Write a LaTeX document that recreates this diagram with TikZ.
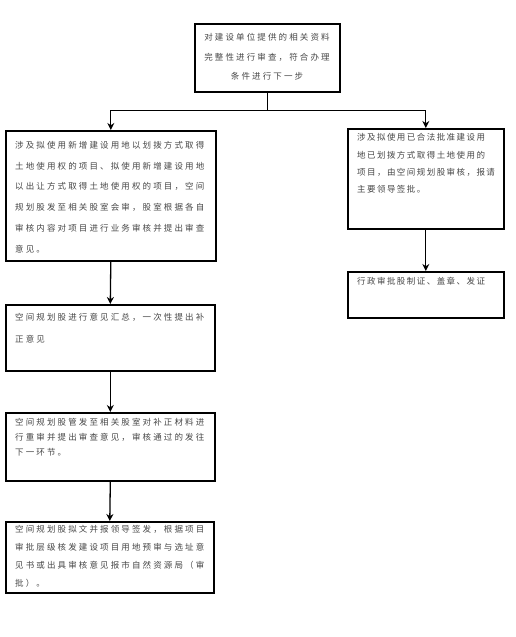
\documentclass[tikz,border=0pt]{standalone}
\usepackage{fontspec}
\newfontfamily\cjk[LetterSpace=25]{Noto Sans CJK SC}
\newfontfamily\cjknarrow[LetterSpace=17]{Noto Sans CJK SC}
\usetikzlibrary{arrows.meta}
\begin{document}
\begin{tikzpicture}[x=1pt,y=-1pt,
  box/.style={draw=black, line width=1.6pt, anchor=north west, inner sep=0pt},
  txt/.style={anchor=north west, inner sep=0pt, align=left, text=black!72, font=\cjk\fontsize{8.5}{#1}\selectfont},
  txtn/.style={anchor=north west, inner sep=0pt, align=left, text=black!72, font=\cjknarrow\fontsize{8.5}{#1}\selectfont},
  arr/.style={draw=black, line width=1.3pt, -{Stealth[length=7pt,width=7pt]}}]
\path[use as bounding box, fill=white] (0,0) rectangle (516,637);

\node[box, minimum width=145pt, minimum height=68pt] (n1) at (194,23) {};
\node[txt=19.5, anchor=north, align=center] (t1) at (267,33.5) {对建设单位提供的相关资料\\完整性进行审查，符合办理\\条件进行下一步};

\node[box, minimum width=210pt, minimum height=130pt] (l1) at (5,130) {};
\node[txt=20.8] (tl1) at (15,141) {涉及拟使用新增建设用地以划拨方式取得\\土地使用权的项目、拟使用新增建设用地\\以出让方式取得土地使用权的项目，空间\\规划股发至相关股室会审，股室根据各自\\审核内容对项目进行业务审核并提出审查\\意见。};

\node[box, minimum width=156pt, minimum height=100pt] (r1) at (347,128) {};
\node[txtn=17.3] (tr1) at (357,133.5) {涉及拟使用已合法批准建设用\\地已划拨方式取得土地使用的\\项目，由空间规划股审核，报请\\主要领导签批。};

\node[box, minimum width=156pt, minimum height=46pt] (r2) at (347,271) {};
\node[txtn=17] (tr2) at (357,277.5) {行政审批股制证、盖章、发证};

\node[box, minimum width=209pt, minimum height=66pt] (l2) at (5,304) {};
\node[txt=22] (tl2) at (15,313.5) {空间规划股进行意见汇总，一次性提出补\\正意见};

\node[box, minimum width=209pt, minimum height=68pt] (l3) at (5,412) {};
\node[txt=15] (tl3) at (15,418.5) {空间规划股管发至相关股室对补正材料进\\行重审并提出审查意见，审核通过的发往\\下一环节。};

\node[box, minimum width=208pt, minimum height=71pt] (l4) at (5,521) {};
\node[txt=17.7] (tl4) at (15,525.5) {空间规划股拟文并报领导签发，根据项目\\审批层级核发建设项目用地预审与选址意\\见书或出具审核意见报市自然资源局（审\\批）。};

\draw[arr] (n1.south) -- ++(0,18) -| (l1.north);
\draw[arr] (n1.south) -- ++(0,18) -| (r1.north);
\draw[arr] (l1.south) -- (l2.north);
\draw[arr] (l2.south) -- (l3.north);
\draw[arr] (l3.south) -- (l4.north);
\draw[arr] (r1.south) -- (r2.north);
\end{tikzpicture}
\end{document}
